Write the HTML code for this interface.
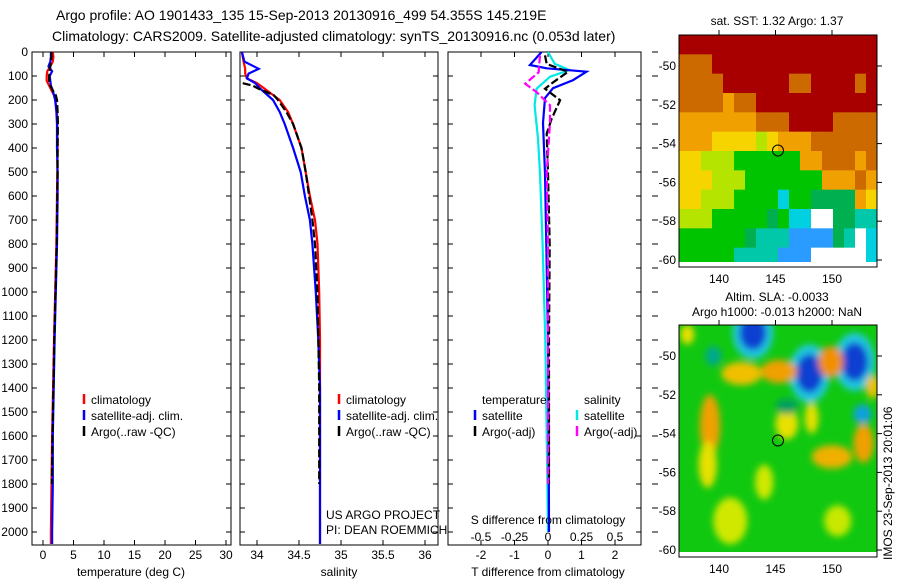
<!DOCTYPE html>
<html><head><meta charset="utf-8"><style>
body{margin:0;background:#fff;}
svg{display:block;font-family:"Liberation Sans",sans-serif;}
text{fill:#000;}
</style></head><body>
<svg id="s" width="900" height="580" viewBox="0 0 900 580">
<defs>
<filter id="blur" x="-50%" y="-50%" width="200%" height="200%"><feGaussianBlur stdDeviation="3.5"/></filter>
<clipPath id="clipP1"><rect x="32" y="52" width="199" height="493"/></clipPath>
<clipPath id="clipP2"><rect x="240" y="52" width="198" height="493"/></clipPath>
<clipPath id="clipP3"><rect x="448" y="52" width="193" height="493"/></clipPath>
<clipPath id="clipM2"><rect x="679" y="325" width="198" height="232"/></clipPath>
</defs>
<text x="56" y="20" font-size="14">Argo profile: AO 1901433_135 15-Sep-2013 20130916_499 54.355S 145.219E</text>
<text x="52" y="41" font-size="14">Climatology: CARS2009. Satellite-adjusted climatology: synTS_20130916.nc (0.053d later)</text>
<g id="g"></g>
<text x="326" y="519" font-size="12">US ARGO PROJECT</text>
<text x="326" y="534" font-size="12">PI: DEAN ROEMMICH</text>
<text x="131" y="576" font-size="12" text-anchor="middle">temperature (deg C)</text>
<text x="339" y="576" font-size="12" text-anchor="middle">salinity</text>
<text x="548" y="576" font-size="12" text-anchor="middle">T difference from climatology</text>
<text x="548" y="524" font-size="12" text-anchor="middle">S difference from climatology</text>
<text x="777" y="25" font-size="12" text-anchor="middle">sat. SST: 1.32 Argo: 1.37</text>
<text x="777" y="301" font-size="12" text-anchor="middle">Altim. SLA: -0.0033</text>
<text x="777" y="316" font-size="12" text-anchor="middle">Argo h1000: -0.013 h2000: NaN</text>
<text transform="translate(892,560) rotate(-90)" font-size="12">IMOS 23-Sep-2013 20:01:06</text>
</svg>
<script>
// ---------- profile data ----------
const depths = [0,20,40,60,80,100,120,140,160,180,200,250,300,400,500,600,700,800,1000,1200,1400,1600,1800,2000,2050];
const tempClim = [1.6,1.7,1.6,1.2,0.7,0.6,0.6,1.0,1.4,1.8,2.0,2.3,2.35,2.4,2.35,2.3,2.25,2.2,2.0,1.8,1.65,1.5,1.4,1.3,1.3];
const tempSat = [1.3,1.3,1.2,0.9,1.5,1.1,1.2,1.3,1.6,1.8,2.0,2.2,2.3,2.3,2.4,2.4,2.35,2.3,2.1,1.9,1.75,1.6,1.6,1.5,1.5];
const argoDepths = [0,20,40,60,80,100,120,140,160,180,200,250,300,400,500,600,700,800,1000,1200,1400,1600,1800];
const tempArgo = [1.4,1.4,1.3,1.2,1.1,1.0,1.0,1.2,1.6,2.1,2.3,2.4,2.45,2.4,2.4,2.35,2.3,2.25,2.05,1.85,1.7,1.55,1.45];
const salDepths = [0,40,70,90,110,130,150,200,250,300,400,500,600,700,800,1000,1200,1400,2050];
const salClim = [33.82,33.84,33.86,33.86,33.88,34.0,34.08,34.27,34.37,34.43,34.53,34.58,34.63,34.69,34.72,34.74,34.75,34.75,34.75];
const salSat = [33.82,33.85,34.02,33.9,33.88,33.98,34.03,34.19,34.27,34.33,34.43,34.52,34.57,34.63,34.66,34.70,34.73,34.75,34.75];
const salArgoDepths = [130,140,150,180,200,250,300,400,500,600,700,800,1000,1400,1800];
const salArgo = [33.83,33.95,34.0,34.2,34.25,34.35,34.43,34.53,34.58,34.62,34.66,34.69,34.72,34.74,34.74];
const dTsatDepths = [0,54,68,82,117,151,192,296,505,800,1200,1600,2000];
const dTsat = [-0.19,-0.54,-0.04,1.15,0.75,0.15,-0.09,-0.15,-0.09,-0.05,0.0,0.02,0.03];
const dSsatDepths = [0,49,75,103,153,222,361,505,800,1200,1600,2000];
const dSsat = [0,0.05,0.16,0.015,-0.085,-0.1,-0.075,-0.06,-0.04,-0.02,-0.01,0];
const dTargoDepths = [14,50,82,131,153,201,278,340,505,800,1200,1800];
const dTargo = [-0.09,-0.04,0.6,0.11,-0.09,0.36,0.11,-0.04,0.0,0.05,0.03,0.03];
const dSargoDepths = [14,85,132,167,222,292,505,800,1200,1800];
const dSargo = [-0.06,-0.07,-0.17,-0.085,0.015,0.015,-0.01,0,0,0];
const depthTicks = [0,100,200,300,400,500,600,700,800,900,1000,1100,1200,1300,1400,1500,1600,1700,1800,1900,2000];
const tempTicks = [0,5,10,15,20,25,30];
const salTicks = [34,34.5,35,35.5,36];
const tdTicks = [-2,-1,0,1,2];
const sdTicks = [-0.5,-0.25,0,0.25,0.5];
const sdTickLabels = ["-0.5","-0.25","0","0.25","0.5"];
const lonTicks = [140,145,150];
const latTicks = [-50,-52,-54,-56,-58,-60];
const floatLon = 145.219, floatLat = -54.355;
const sstRows = [
"RRRRRRRRRRRRRRRRRR",
"OOORRRRRRRRRRRRRRR",
"OOOORRRRRROORRRROR",
"OOOOoOORRRRRRRRRRR",
"oooooooOOORRRROOOO",
"oooYYYYyYoooOOOOOO",
"YYyyyGGGGGGooOOOoO",
"YYYyyyGGGGGGGoooOo",
"YYyyyGGGGcGGggggoY",
"yyyGGGGGgGccWWggCC",
"GGGGGGgCCCBBBBgCWc",
"GGGGGCCCCBBBWWWWWc"];
const sstColors = {R:"#a80000",O:"#cc6a00",o:"#f0a000",Y:"#f5d400",y:"#b4e400",G:"#00c400",g:"#00b050",C:"#00c8a8",c:"#00d0e0",B:"#2a9cff",W:"#ffffff"};
const slaLon = [143,148,152,152.7,149.9,145.3,142,139.2,152.8,150,137.2,139,146,148.2,144,153.6,146,141,150.5,139.5];
const slaLat = [-48.8,-50.9,-50.3,-53.0,-50.3,-50.8,-50.9,-53.6,-54.5,-55.2,-48.9,-55.6,-53.5,-53.2,-56.5,-51.6,-52.6,-58.5,-58.5,-50.0];
const slaRx = [1.2,1.2,1.2,0.8,1.1,1.6,1.8,0.9,0.9,1.8,0.6,0.8,1.0,0.6,0.8,0.6,1.0,1.5,1.2,0.7];
const slaRy = [0.9,1.0,1.0,0.5,0.8,0.6,0.6,1.6,1.0,0.6,0.5,1.2,0.8,0.8,0.9,0.6,0.4,1.2,0.8,0.5];
const slaColor = ["#1040d0","#1040d0","#1040d0","#10a0e0","#f09000","#f0a000","#f0c000","#f0a000","#f0a000","#f0b000","#f0e000","#e8e000","#e8e000","#e8e000","#d0e800","#f0c000","#00a060","#d0e800","#c8e800","#00a890"];

const yD = d => 52 + d*0.24;
const xT = v => 43 + v*6.1;
const xS = v => 257 + (v-34)*84;
const xTD = v => 548 + v*33.5;
const xSD = v => 548 + v*134;
const mx = lon => 719 + (lon-140)*11.3;
const my = lat => 66 + (-50-lat)*19.4;
const my2 = lat => 356 + (-50-lat)*19.4;

const NS = "http://www.w3.org/2000/svg";
const G = document.getElementById('g');
function mk(tag, attrs, parent){const e=document.createElementNS(NS,tag);for(const k in attrs)e.setAttribute(k,attrs[k]);(parent||G).appendChild(e);return e;}

const panels = [[32,199,'panel-temperature','clipP1'],[240,198,'panel-salinity','clipP2'],[448,193,'panel-difference','clipP3']];
panels.forEach(p=>{
  const r = mk('rect',{x:p[0],y:52,width:p[1],height:493,fill:'#fff',stroke:'#000','stroke-width':1});
  
  
  depthTicks.forEach(d=>{
    const t1 = mk('line',{x1:p[0],x2:p[0]+5,y1:yD(d),y2:yD(d),stroke:'#000'});
    
    
    const t2 = mk('line',{x1:p[0]+p[1]-5,x2:p[0]+p[1],y1:yD(d),y2:yD(d),stroke:'#000'});
    
    
  });
});
depthTicks.forEach(d=>{
  const t = mk('text',{x:28,y:yD(d)+4,'font-size':12,'text-anchor':'end'});
  t.textContent = d;
  
  
  const t3 = mk('line',{x1:652,x2:658,y1:yD(d),y2:yD(d),stroke:'#000'});
  
  
});
function xticks(vals, labels, fx, ylab, name){
  vals.forEach((v,i)=>{
    const x = fx(v);
    const a = mk('line',{x1:x,x2:x,y1:540,y2:545,stroke:'#000'});
    
    
    const b = mk('line',{x1:x,x2:x,y1:52,y2:57,stroke:'#000'});
    
    
    const t = mk('text',{x:x,y:ylab,'font-size':12,'text-anchor':'middle'});
    t.textContent = labels[i];
    
    
  });
}
xticks(tempTicks, tempTicks, xT, 559, 'temperature');
xticks(salTicks, salTicks, xS, 559, 'salinity');
xticks(tdTicks, tdTicks, xTD, 559, 'tdiff');
sdTicks.forEach((v,i)=>{
  const t = mk('text',{x:xSD(v),y:541,'font-size':12,'text-anchor':'middle'});
  t.textContent = sdTickLabels[i];
  
  
});

function line(xs, ds, fx, color, dash, clip, name){
  const pts = xs.map((v,i)=>fx(v).toFixed(1)+','+yD(ds[i]).toFixed(1)).join(' ');
  const a = {points:pts,fill:'none',stroke:color,'stroke-width':2.2,'clip-path':'url(#'+clip+')'};
  if(dash) a['stroke-dasharray']=dash;
  const e = mk('polyline',a);
  
  
}
line(tempClim, depths, xT, '#f00', null, 'clipP1', 'temp-climatology-line');
line(tempSat, depths, xT, '#00f', null, 'clipP1', 'temp-satellite-line');
line(tempArgo, argoDepths, xT, '#000', '8,3', 'clipP1', 'temp-argo-line');
line(salClim, salDepths, xS, '#f00', null, 'clipP2', 'sal-climatology-line');
line(salSat, salDepths, xS, '#00f', null, 'clipP2', 'sal-satellite-line');
line(salArgo, salArgoDepths, xS, '#000', '8,3', 'clipP2', 'sal-argo-line');
line(dSsat, dSsatDepths, xSD, '#00e8e8', null, 'clipP3', 'sdiff-satellite-line');
line(dTsat, dTsatDepths, xTD, '#00f', null, 'clipP3', 'tdiff-satellite-line');
line(dTargo, dTargoDepths, xTD, '#000', '8,3', 'clipP3', 'tdiff-argo-line');
line(dSargo, dSargoDepths, xSD, '#f0f', '8,3', 'clipP3', 'sdiff-argo-line');

function leg(x, y, color, label, name){
  const m = mk('line',{x1:x,x2:x,y1:y-10,y2:y,stroke:color,'stroke-width':2.5});
  
  
  if(label){
    const t = mk('text',{x:x+7,y:y,'font-size':12});
    t.textContent = label;
    
    
  }
}
[[84,'p1'],[339,'p2']].forEach(l=>{
  leg(l[0],404,'#f00','climatology',l[1]+'-legend-climatology');
  leg(l[0],420,'#00f','satellite-adj. clim.',l[1]+'-legend-satellite');
  leg(l[0],436,'#000','Argo(..raw -QC)',l[1]+'-legend-argo');
});
const h1 = mk('text',{x:482,y:404,'font-size':12}); h1.textContent='temperature';


const h2 = mk('text',{x:584,y:404,'font-size':12}); h2.textContent='salinity';


leg(475,420,'#00f','satellite','legend-t-satellite');
leg(475,436,'#000','Argo(-adj)','legend-t-argo');
leg(577,420,'#00e8e8','satellite','legend-s-satellite');
leg(577,436,'#f0f','Argo(-adj)','legend-s-argo');

const cw = 198/18, ch = (267-35)/12;
sstRows.forEach((row,r)=>{
  for(let c=0;c<row.length;c++){
    const cell = mk('rect',{x:(679+c*cw).toFixed(2),y:(35+r*ch).toFixed(2),width:(cw+0.5).toFixed(2),height:(ch+0.5).toFixed(2),fill:sstColors[row[c]]});
    
    
  }
});
const wb = mk('rect',{x:679,y:262,width:198,height:5,fill:'#fff'});



const bg = mk('rect',{x:679,y:325,width:198,height:232,fill:'#10c810'});


const blobs = mk('g',{'clip-path':'url(#clipM2)'});
const bl = mk('g',{filter:'url(#blur)'},blobs);
slaLon.forEach((lon,i)=>{
  const isBlue = slaColor[i]==="#1040d0";
  if(isBlue){
    const halo = mk('ellipse',{cx:mx(lon),cy:my2(slaLat[i]),rx:slaRx[i]*11.3*1.5,ry:slaRy[i]*19.4*1.5,fill:'#20c8e0'},bl);
    
    
  }
  const e = mk('ellipse',{cx:mx(lon),cy:my2(slaLat[i]),rx:slaRx[i]*11.3,ry:slaRy[i]*19.4,fill:slaColor[i]},bl);
  
  
});
const wb2 = mk('rect',{x:679,y:552,width:198,height:5,fill:'#fff'});



[[35,267,my,'sst'],[325,557,my2,'sla']].forEach(m=>{
  const f = mk('rect',{x:679,y:m[0],width:198,height:m[1]-m[0],fill:'none',stroke:'#000'});
  
  
  lonTicks.forEach(lon=>{
    const a = mk('line',{x1:mx(lon),x2:mx(lon),y1:m[0]-5,y2:m[0],stroke:'#000'});
    
    
    const t = mk('text',{x:mx(lon),y:m[1]+16,'font-size':12,'text-anchor':'middle'});
    t.textContent = lon;
    
    
  });
  latTicks.forEach(lat=>{
    const y = m[2](lat);
    const a = mk('line',{x1:877,x2:882,y1:y,y2:y,stroke:'#000'});
    
    
    const t = mk('text',{x:676,y:y+4,'font-size':12,'text-anchor':'end'});
    t.textContent = lat;
    
    
  });
  const c = mk('circle',{cx:mx(floatLon),cy:m[2](floatLat),r:5.5,fill:'none',stroke:'#000','stroke-width':1});
  
  
});
</script>
</body></html>
